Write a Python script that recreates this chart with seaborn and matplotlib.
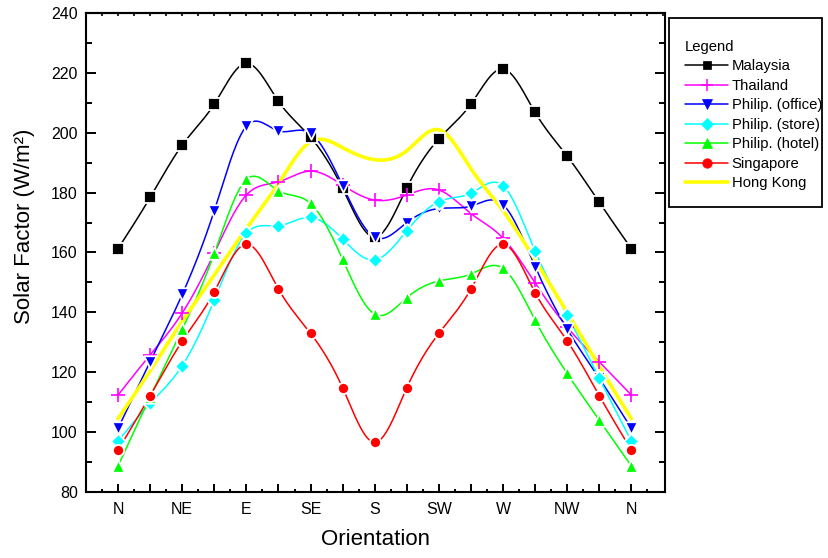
import numpy as np
import pandas as pd
import matplotlib
matplotlib.use("Agg")
import matplotlib.pyplot as plt
import seaborn as sns
from matplotlib.lines import Line2D
from matplotlib.patches import Rectangle
from matplotlib.ticker import FixedLocator, MultipleLocator

# ---------------- data ----------------
orientations = ["N", "NNE", "NE", "ENE", "E", "ESE", "SE", "SSE", "S",
                "SSW", "SW", "WSW", "W", "WNW", "NW", "NNW", "N"]
tick_labels = ["N", "NE", "E", "SE", "S", "SW", "W", "NW", "N"]

malaysia = [161.3, 178.4, 195.9, 209.6, 223.2, 210.5, 198.5, 181.4, 165.1,
            181.6, 198.0, 209.6, 221.3, 206.8, 192.2, 176.8, 161.3]
thailand = [112.4, 125.8, 139.8, 159.8, 179.2, 183.6, 187.2, 182.5, 177.5,
            179.2, 180.9, 173.0, 164.8, 149.8, 135.1, 123.5, 112.4]
philip_office = [101.3, 123.5, 146.0, 174.0, 202.2, 200.6, 199.8, 182.3, 165.1,
                 170.0, 174.7, 175.5, 176.0, 155.3, 134.4, 118.0, 101.3]
philip_store = [97.0, 109.6, 122.2, 144.1, 166.4, 168.9, 171.7, 164.5, 157.5,
                167.3, 177.0, 179.8, 182.3, 160.5, 139.1, 118.0, 97.0]
philip_hotel = [88.7, 111.8, 134.3, 159.7, 184.4, 180.6, 176.4, 157.7, 139.4,
                144.9, 150.5, 152.8, 154.7, 137.4, 119.6, 104.0, 88.7]
singapore = [94.0, 112.2, 130.4, 146.9, 162.8, 147.8, 133.0, 114.8, 96.6,
             114.8, 133.0, 147.8, 162.8, 146.6, 130.5, 112.2, 94.0]
hong_kong = [104.5, 120.5, 137.0, 152.5, 168.0, 183.0, 197.0, 195.0, 191.0,
             194.0, 201.0, 188.0, 174.0, 157.5, 140.0, 122.0, 104.5]

series_names = ["Malaysia", "Thailand", "Philip. (office)", "Philip. (store)",
                "Philip. (hotel)", "Singapore", "Hong Kong"]
series_values = [malaysia, thailand, philip_office, philip_store,
                 philip_hotel, singapore, hong_kong]
colors = ["#000000", "#FF00FF", "#0000FF", "#00FFFF", "#00FF00", "#FF0000", "#FFFF00"]
markers = ["s", "+", "v", "D", "^", "o", None]
msizes = [8, 10, 9, 7.5, 9, 8, 0]
legend_msizes = [6, 8, 7.5, 6.5, 7.5, 6.8, 0]


def natural_spline(y, n_per=30):
    """Smooth rendering curve through the points (natural cubic spline)."""
    y = np.asarray(y, float)
    n = len(y)
    A = np.zeros((n, n))
    b = np.zeros(n)
    A[0, 0] = A[-1, -1] = 1.0
    for i in range(1, n - 1):
        A[i, i - 1], A[i, i], A[i, i + 1] = 1.0, 4.0, 1.0
        b[i] = 6.0 * (y[i + 1] - 2 * y[i] + y[i - 1])
    M = np.linalg.solve(A, b)
    xs, ys = [], []
    for i in range(n - 1):
        t = np.linspace(0, 1, n_per, endpoint=(i == n - 2))
        a = 1 - t
        yy = (M[i] * a**3 + M[i + 1] * t**3) / 6.0 \
            + (y[i] - M[i] / 6.0) * a + (y[i + 1] - M[i + 1] / 6.0) * t
        xs.append(i + t)
        ys.append(yy)
    return np.concatenate(xs), np.concatenate(ys)


# ---------------- figure ----------------
sns.set_theme(style="ticks")
plt.rcParams["font.family"] = ["Liberation Sans", "DejaVu Sans"]
plt.rcParams["text.color"] = "black"
plt.rcParams["axes.labelcolor"] = "black"
plt.rcParams["xtick.color"] = "black"
plt.rcParams["ytick.color"] = "black"

fig = plt.figure(figsize=(8.29, 5.58), dpi=100)
ax = fig.add_axes([86 / 829, 1 - 492 / 558, 579 / 829, 479 / 558])

x = np.arange(len(orientations))
handles = []
for name, vals, col, mk, ms, lms in zip(series_names, series_values, colors,
                                         markers, msizes, legend_msizes):
    sx, sy = natural_spline(vals)
    lw = 2.6 if mk is None else 1.1
    z = 3 if mk is None else 2
    line_df = pd.DataFrame({"x": sx, "y": sy})
    sns.lineplot(data=line_df, x="x", y="y", ax=ax, color=col, linewidth=lw,
                 zorder=z, sort=False, estimator=None)
    if mk is not None:
        pt_df = pd.DataFrame({"x": x, "y": vals})
        if mk == "+":
            ax.plot(pt_df["x"], pt_df["y"], linestyle="none", marker=mk, ms=ms,
                    mew=1.2, color=col, zorder=4)
            h = Line2D([0], [0], color=col, lw=1.1, marker=mk, ms=lms, mew=1.1)
        else:
            sns.scatterplot(data=pt_df, x="x", y="y", ax=ax, marker=mk, s=ms**2,
                            color=col, edgecolor="white", linewidth=1.3, zorder=4)
            h = Line2D([0], [0], color=col, lw=1.1, marker=mk, ms=lms,
                       mec=col, mew=0.5, mfc=col)
    else:
        h = Line2D([0], [0], color=col, lw=lw)
    handles.append(h)

ax.set_xlim(-1, 17.05)
ax.set_ylim(80, 240)
ax.xaxis.set_major_locator(FixedLocator(list(x)))
ax.set_xticklabels([tick_labels[i // 2] if i % 2 == 0 else "" for i in x])
ax.xaxis.set_minor_locator(FixedLocator(list(np.arange(-0.5, 17, 1.0))))
ax.yaxis.set_major_locator(MultipleLocator(20))
ax.yaxis.set_minor_locator(MultipleLocator(10))

ax.tick_params(axis="both", which="both", direction="in", width=1.4,
               colors="black", labelsize=11.5)
ax.tick_params(axis="y", which="both", right=True, left=True, pad=6)
ax.tick_params(axis="y", which="major", length=7.5)
ax.tick_params(axis="y", which="minor", length=4)
ax.tick_params(axis="x", which="major", length=6, pad=7, top=False)
ax.tick_params(axis="x", which="minor", length=2.2, top=False)

sec = ax.secondary_xaxis("top")
sec.xaxis.set_major_locator(FixedLocator(list(np.arange(-0.5, 17.01, 0.5))))
sec.tick_params(direction="in", length=1.8, width=1.2, labeltop=False, colors="black")
sec.spines["top"].set_linewidth(1.5)
sec.spines["top"].set_color("black")

for sp in ax.spines.values():
    sp.set_linewidth(1.5)
    sp.set_color("black")

ax.set_xlabel("Orientation", fontsize=16, color="black")
ax.set_ylabel("Solar Factor (W/m²)", fontsize=16, color="black")
ax.xaxis.set_label_coords(0.5, -0.078)
ax.yaxis.set_label_coords(-0.088, 0.555)

# legend frame + legend
fig.patches.append(Rectangle((669 / 829, 1 - 207 / 558), 153 / 829, 189 / 558,
                             transform=fig.transFigure, fill=False,
                             edgecolor="black", linewidth=1.3))
leg = fig.legend(handles, series_names, loc="upper left",
                 bbox_to_anchor=(685 / 829, 1 - 40 / 558),
                 bbox_transform=fig.transFigure, frameon=False,
                 title="Legend", alignment="left", fontsize=10.7,
                 title_fontsize=10.7, handlelength=2.9, handletextpad=0.25,
                 labelspacing=0.37, borderpad=0, borderaxespad=0)

fig.savefig("out.png", dpi=100)
